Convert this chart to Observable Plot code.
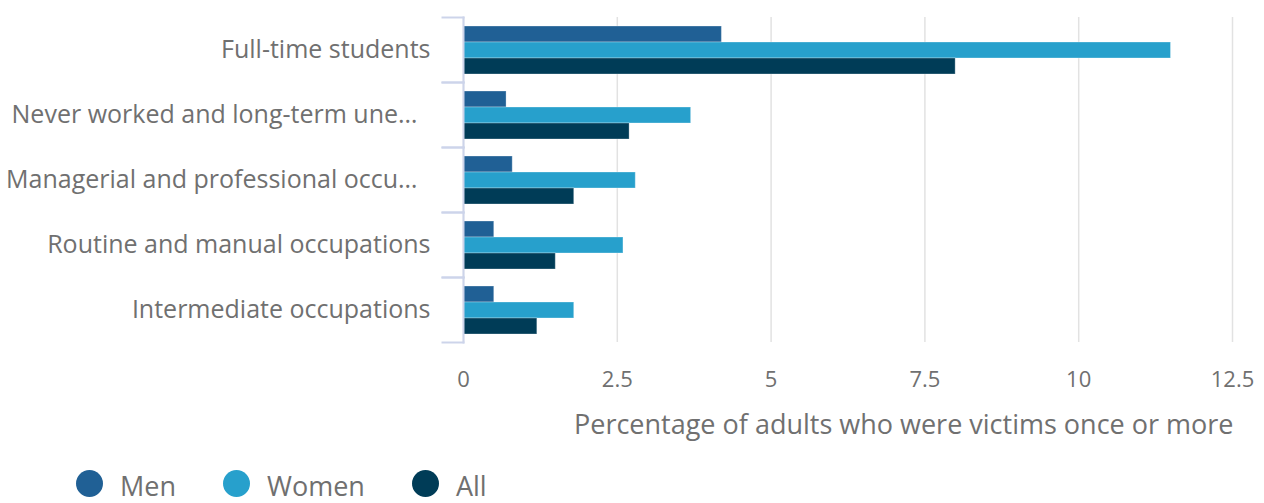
<!DOCTYPE html>
<html>
<head>
<meta charset="utf-8">
<script src="https://cdn.jsdelivr.net/npm/d3@7"></script>
<script src="https://cdn.jsdelivr.net/npm/@observablehq/plot@0.6"></script>
<style>
  html, body { margin: 0; padding: 0; background: #fff; overflow: hidden; }
  body { width: 1264px; height: 503px; font-family: "Open Sans", sans-serif; }
  #chart svg g[aria-label="x-axis label"] text { font-size: 27px; }
  .legend { display: flex; align-items: center; padding-left: 76px; height: 56px; gap: 47px; }
  .item { display: flex; align-items: center; gap: 17px; font-size: 27px; color: #707070; }
  .item span.t { padding-top: 4px; }
  .dot { width: 27px; height: 27px; border-radius: 50%; display: inline-block; }
</style>
</head>
<body>
<div id="chart"></div>
<div class="legend" id="legend"></div>
<script>
const categories = [
  "Full-time students",
  "Never worked and long-term unemployed",
  "Managerial and professional occupations",
  "Routine and manual occupations",
  "Intermediate occupations"
];
const tickLabels = [
  "Full-time students",
  "Never worked and long-term une…\u00A0\u00A0",
  "Managerial and professional occu…\u00A0\u00A0",
  "Routine and manual occupations",
  "Intermediate occupations"
];
const seriesNames = ["Men", "Women", "All"];
const men = [4.2, 0.7, 0.8, 0.5, 0.5];
const women = [11.5, 3.7, 2.8, 2.6, 1.8];
const all = [8.0, 2.7, 1.8, 1.5, 1.2];
const colors = ["#206095", "#27a0cc", "#003c57"];
const xTicks = [0, 2.5, 5, 7.5, 10, 12.5];
const xLabel = "Percentage of adults who were victims once or more";

const seriesValues = [men, women, all];
const data = categories.flatMap((c, i) =>
  seriesNames.map((s, j) => ({category: c, series: s, value: seriesValues[j][i]}))
);

const W = 1264, H = 455, mL = 463, mR = 32, mT = 15, mB = 111;
const plotW = W - mL - mR;
const axisColor = "#cdd4ea";

const chart = Plot.plot({
  width: W, height: H,
  marginTop: mT, marginBottom: mB, marginLeft: mL, marginRight: mR,
  style: {fontFamily: "'Open Sans', sans-serif", color: "#707070", background: "white", overflow: "visible"},
  x: {domain: [0, 12.5], ticks: xTicks},
  y: {domain: seriesNames, paddingInner: 0, paddingOuter: 0.44, axis: null},
  fy: {domain: categories, padding: 0},
  color: {domain: seriesNames, range: colors},
  marks: [
    Plot.gridX(xTicks, {stroke: "#e2e2e2", strokeOpacity: 1, strokeWidth: 1.5}),
    Plot.barX(data, {fy: "category", y: "series", x: "value", fill: "series",
      stroke: "white", strokeOpacity: 0.3, strokeWidth: 1}),
    Plot.frame({anchor: "left", stroke: axisColor, strokeWidth: 2, strokeOpacity: 1}),
    Plot.frame({anchor: "top", insetLeft: -21, insetRight: plotW, stroke: axisColor, strokeWidth: 2, strokeOpacity: 1}),
    Plot.frame({anchor: "bottom", insetLeft: -21, insetRight: plotW, stroke: axisColor, strokeWidth: 2, strokeOpacity: 1}),
    Plot.axisX({ticks: xTicks, tickSize: 0, tickPadding: 29, fontSize: 22, tickFormat: d => String(d),
      label: xLabel, labelAnchor: "right", labelOffset: 91, labelArrow: "none"}),
    Plot.axisFy({anchor: "left", tickSize: 0, tickPadding: 33, fontSize: 25, label: null,
      tickFormat: d => tickLabels[categories.indexOf(d)]})
  ]
});
document.getElementById("chart").append(chart);
// align the axis title's end with the plot's right edge
d3.select(chart).selectAll('g[aria-label="x-axis label"] text').attr("dx", -28);

const legend = document.getElementById("legend");
seriesNames.forEach((s, i) => {
  const item = document.createElement("div");
  item.className = "item";
  const dot = document.createElement("span");
  dot.className = "dot";
  dot.style.background = colors[i];
  const t = document.createElement("span");
  t.className = "t";
  t.textContent = s;
  item.append(dot, t);
  legend.append(item);
});
</script>
</body>
</html>
